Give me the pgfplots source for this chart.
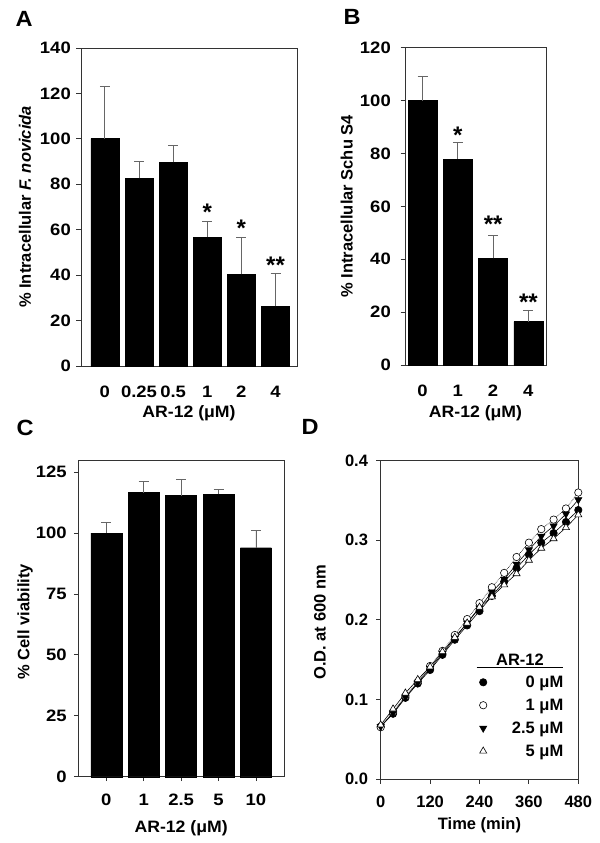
\documentclass[border=0pt]{standalone}
\usepackage{fontspec}
\setmainfont{Liberation Sans}
\newfontfamily\labfam{Liberation Sans}[FakeStretch=1.07]
\newfontfamily\tickfam{Liberation Sans}[FakeStretch=1.12]
\usepackage{pgfplots}
\usepackage{pgfplotstable}
\pgfplotsset{compat=1.18}

\newcommand\plainf{\fontsize{16.5bp}{19bp}\selectfont\bfseries}
\newcommand\lab{\labfam\fontsize{16.5bp}{19bp}\selectfont\bfseries}
\newcommand\tickf{\tickfam\fontsize{16.5bp}{19bp}\selectfont\bfseries}
\newcommand\panelf{\labfam\fontsize{22bp}{24bp}\selectfont\bfseries}
\newcommand\starf{\fontsize{24bp}{26bp}\selectfont\bfseries}

\pgfplotstableread{
x y e
0 100.1 22.8
1 82.6 7.3
2 89.6 7.3
3 56.7 7.0
4 40.3 16.5
5 26.3 14.4
}\dataA
\pgfplotstableread{
x y s
3 70.1 *
4 62.8 *
5 46.7 **
}\starsA
\pgfplotstableread{
x y e
0 100.0 9.3
1 77.9 6.4
2 40.3 8.7
3 16.4 4.4
}\dataB
\pgfplotstableread{
x y s
1 88.9 *
2 55.1 **
3 25.8 **
}\starsB
\pgfplotstableread{
x y e
0 100.0 4.5
1 116.6 4.7
2 115.4 6.5
3 116.0 1.8
4 94.0 7.2
}\dataC
\pgfplotstableread{
t a b c d
0   0.066 0.065 0.066 0.068
30  0.082 0.084 0.083 0.088
60  0.102 0.104 0.103 0.108
90  0.120 0.122 0.121 0.125
120 0.137 0.142 0.139 0.141
150 0.156 0.161 0.158 0.160
180 0.175 0.181 0.177 0.178
210 0.193 0.201 0.196 0.196
240 0.211 0.221 0.215 0.216
270 0.230 0.241 0.235 0.229
300 0.248 0.259 0.251 0.244
330 0.265 0.279 0.270 0.258
360 0.282 0.297 0.288 0.275
390 0.297 0.314 0.305 0.290
420 0.309 0.326 0.318 0.302
450 0.323 0.340 0.333 0.316
480 0.338 0.360 0.351 0.332
}\dataD

\pgfplotsset{
  panel/.style={
    scale only axis, anchor=south west, clip=false,
    axis line style={black!80, line width=0.9bp},
    every tick/.style={black!80, line width=0.9bp},
    major tick length=4.5bp,
    tick align=outside,
    tick label style={font=\tickf},
    xlabel style={font=\lab},
    ylabel style={font=\plainf},
    /pgf/number format/assume math mode=true,
    ytick pos=left, xtick pos=bottom,
    ymin=0,
    yticklabel style={anchor=east, inner sep=0pt},
    xticklabel style={anchor=center, inner sep=0pt},
  },
  bars/.style={ybar, bar width=#1, bar shift=0pt, fill=black, draw=black,
    error bars/.cd, y dir=plus, y explicit,
    error bar style={black!60, line width=0.9bp},
    error mark options={rotate=90, mark size=5bp, black!60, line width=0.9bp}},
  stars/.style={draw=none, mark=none, nodes near coords, point meta=explicit symbolic,
    every node near coord/.style={anchor=center, font=\starf, yshift=-5bp, inner sep=0pt}},
}

\begin{document}
\begin{tikzpicture}
\path[use as bounding box] (0bp,0bp) rectangle (600bp,843bp);

% Panel A
\begin{axis}[panel,
  at={(81bp,477bp)}, width=216bp, height=318bp,
  xmin=-0.7, xmax=5.63, ymax=140, ytick={0,20,...,140},
  xtick={0,...,5}, xticklabels={0,0.25,0.5,1,2,4},
  major x tick style={draw=none},
  yticklabel style={xshift=-5.5bp},
  xticklabel style={yshift=-21bp},
  xlabel={AR-12 (μM)}, ylabel={\% Intracellular \textit{F. novicida}},
  xlabel style={at={(axis description cs:0.5,-0.148)}, anchor=center},
  ylabel style={at={(axis description cs:-0.259,0.5)}, anchor=center},
]
\addplot[bars=28bp] table[x=x, y=y, y error=e] {\dataA};
\addplot[stars] table[x=x, y=y, meta=s] {\starsA};
\end{axis}

% Panel B
\begin{axis}[panel,
  at={(405bp,478bp)}, width=141bp, height=317.3bp,
  xmin=-0.5, xmax=3.5, ymax=120, ytick={0,20,...,120},
  xtick={0,...,3}, xticklabels={0,1,2,4},
  major x tick style={draw=none},
  yticklabel style={xshift=-9.5bp},
  xticklabel style={yshift=-21bp},
  xlabel={AR-12 (μM)}, ylabel={\% Intracellular Schu S4},
  xlabel style={at={(axis description cs:0.5,-0.151)}, anchor=center},
  ylabel style={at={(axis description cs:-0.413,0.5)}, anchor=center},
]
\addplot[bars=29bp] table[x=x, y=y, y error=e] {\dataB};
\addplot[stars] table[x=x, y=y, meta=s] {\starsB};
\end{axis}

% Panel C
\begin{axis}[panel,
  at={(78.3bp,66.3bp)}, width=205.7bp, height=316.7bp,
  xmin=-0.75, xmax=4.75, ymax=130, ytick={0,25,...,125},
  xtick={0,...,4}, xticklabels={0,1,2.5,5,10},
  yticklabel style={xshift=-7bp},
  xticklabel style={yshift=-19bp},
  xlabel={AR-12 (μM)}, ylabel={\% Cell viability},
  xlabel style={at={(axis description cs:0.5,-0.163)}, anchor=center},
  ylabel style={at={(axis description cs:-0.259,0.489)}, anchor=center},
]
\addplot[bars=31bp] table[x=x, y=y, y error=e] {\dataC};
\end{axis}

% Panel D
\begin{axis}[panel,
  at={(380.7bp,64bp)}, width=197.6bp, height=318.3bp,
  xmin=0, xmax=480, ymax=0.4, ytick={0,0.1,...,0.4},
  xtick={0,120,...,480},
  tick label style={font=\plainf},
  xlabel style={font=\plainf},
  yticklabel style={xshift=-8bp, /pgf/number format/.cd, fixed, fixed zerofill, precision=1},
  xticklabel style={yshift=-18bp},
  xlabel={Time (min)}, ylabel={O.D. at 600 nm},
  xlabel style={at={(axis description cs:0.5,-0.145)}, anchor=center},
  ylabel style={at={(axis description cs:-0.307,0.492)}, anchor=center},
  legend style={at={(0.93,0.328)}, anchor=north east, draw=none, fill=none,
    inner sep=0pt, row sep=8bp, column sep=24bp, font=\plainf, nodes={inner sep=1bp}},
  legend cell align=right,
  legend image code/.code={\draw[#1, only marks] plot coordinates {(8bp,0bp)};},
]
\addplot[black, line width=0.6bp, mark=*, mark size=3.7bp, mark options={solid, fill=black}] table[x=t, y=a] {\dataD};
\addlegendentry{0 μM}
\addplot[black, line width=0.6bp, densely dotted, mark=*, mark size=3.7bp, mark options={solid, fill=white}] table[x=t, y=b] {\dataD};
\addlegendentry{1 μM}
\addplot[black, line width=0.6bp, mark=triangle*, mark size=4.1bp, mark options={solid, rotate=180, fill=black}] table[x=t, y=c] {\dataD};
\addlegendentry{2.5 μM}
\addplot[black, line width=0.6bp, mark=triangle*, mark size=4.1bp, mark options={solid, fill=white}] table[x=t, y=d] {\dataD};
\addlegendentry{5 μM}
\node[font=\plainf, anchor=center] at (rel axis cs:0.705,0.374) {AR-12};
\draw[black, line width=1.2bp] (rel axis cs:0.486,0.351) -- (rel axis cs:0.924,0.351);
\end{axis}

\node[font=\panelf] at (24bp,824bp) {A};
\node[font=\panelf] at (352bp,826bp) {B};
\node[font=\panelf] at (25bp,415bp) {C};
\node[font=\panelf] at (310bp,416bp) {D};
\end{tikzpicture}
\end{document}
